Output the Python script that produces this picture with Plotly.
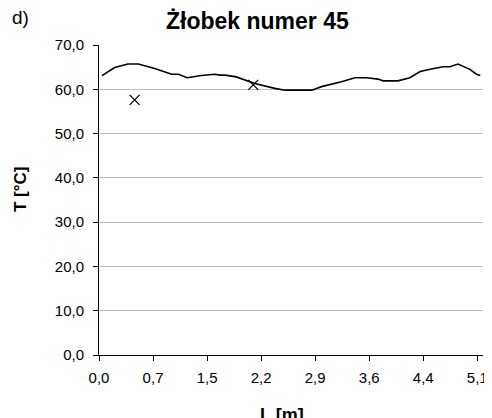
import plotly.graph_objects as go

# Measured curve (L [m], T [°C])
L_curve = [0.04, 0.21, 0.39, 0.53, 0.75, 0.98, 1.07, 1.19, 1.38, 1.56, 1.63, 1.70, 1.85,
           2.10, 2.37, 2.51, 2.87, 3.00, 3.27, 3.45, 3.61, 3.76, 3.83, 4.03, 4.19, 4.33,
           4.48, 4.64, 4.73, 4.84, 5.00, 5.09, 5.14]
T_curve = [63.1, 64.9, 65.7, 65.7, 64.7, 63.4, 63.4, 62.6, 63.1, 63.4, 63.2, 63.2, 62.8,
           61.3, 60.2, 59.8, 59.8, 60.6, 61.7, 62.6, 62.6, 62.3, 61.9, 61.9, 62.6, 64.0,
           64.6, 65.1, 65.1, 65.7, 64.5, 63.4, 63.1]

# Point measurements
L_points = [0.48, 2.08]
T_points = [57.6, 61.0]

x_tick_vals = [k * 5.1 / 7 for k in range(8)]
x_tick_text = ["0,0", "0,7", "1,5", "2,2", "2,9", "3,6", "4,4", "5,1"]
y_ticks = [0, 10, 20, 30, 40, 50, 60, 70]

font_family = "Liberation Sans, Arial, sans-serif"

# page body has an 8px margin: figure is sized/positioned to compensate
OFF = 8
W, H = 492 - OFF, 418 - OFF
l, r, t, b = 91, 9, 37, 63
pw, ph = W - l - r, H - t - b

fig = go.Figure()
fig.add_trace(go.Scatter(x=L_curve, y=T_curve, mode="lines",
                         line=dict(color="black", width=1.6), showlegend=False))
fig.add_trace(go.Scatter(x=L_points, y=T_points, mode="markers",
                         marker=dict(symbol="x-thin", size=10, color="black",
                                     line=dict(color="black", width=1.3)),
                         showlegend=False))


def ann(text, sx, sy, size, angle=0):
    return dict(text=text, xref="paper", yref="paper",
                x=(sx - OFF - l) / pw, y=(H - b - (sy - OFF)) / ph,
                xanchor="center", yanchor="middle", showarrow=False,
                textangle=angle, font=dict(size=size))


fig.update_layout(
    width=W, height=H,
    margin=dict(l=l, r=r, t=t, b=b, autoexpand=False),
    paper_bgcolor="white", plot_bgcolor="white",
    separators=", ",
    font=dict(family=font_family, size=15, color="black"),
    xaxis=dict(range=[0, 5.177], tickvals=x_tick_vals, ticktext=x_tick_text,
               showgrid=False, showline=True, linecolor="black", linewidth=1,
               ticks="outside", ticklen=5, tickcolor="black", zeroline=False,
               ticklabelstandoff=4, tickfont=dict(size=15)),
    yaxis=dict(range=[0, 70], tickvals=y_ticks, tickformat=".1f",
               showgrid=True, gridcolor="#c0c0c0", gridwidth=1,
               showline=True, linecolor="black", linewidth=1,
               ticks="outside", ticklen=5, tickcolor="black", zeroline=False,
               ticklabelstandoff=6, tickfont=dict(size=15)),
    annotations=[
        ann("<b>Żłobek numer 45</b>", 257.5, 21, 23),
        ann("d)", 20, 18, 19),
        ann("<b>T [°C]</b>", 20, 189, 17, -90),
        ann("<b>L [m]</b>", 282, 415, 18),
    ],
)

fig.write_html("out.html")
